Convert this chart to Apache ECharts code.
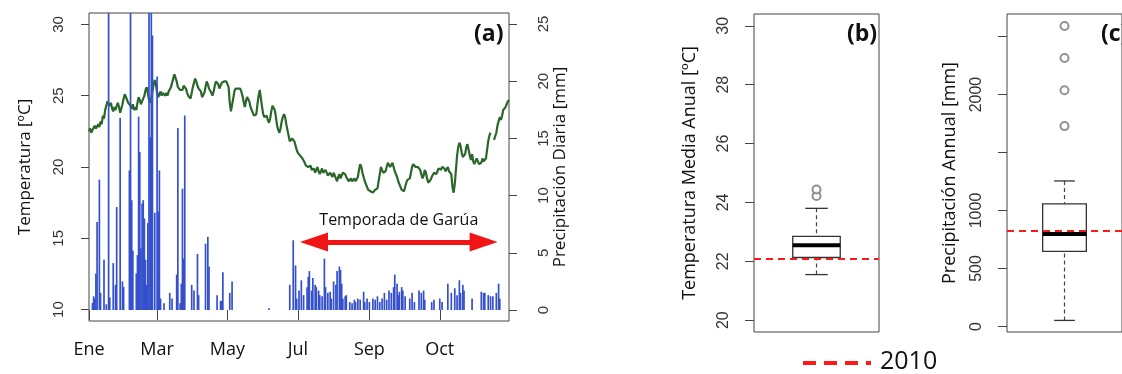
<!DOCTYPE html>
<html>
<head>
<meta charset="utf-8">
<script src="https://cdn.jsdelivr.net/npm/echarts@6/dist/echarts.min.js"></script>
<style>
  html, body { margin: 0; padding: 0; background: #fff; }
  #chart { width: 1122px; height: 374px; }
</style>
</head>
<body>
<div id="chart"></div>
<script>
// Month ticks (day of year) and their labels
const monthDays = [0, 59, 120, 181, 243, 304];
const monthLabels = ['Ene', 'Mar', 'May', 'Jul', 'Sep', 'Oct'];

// Daily mean temperature [ºC], day 0 .. 364 (null = missing)
const tempDaily = [
  22.5, 22.7, 22.4, 22.6, 22.5, 22.9, 22.7, 22.6, 23.0, 22.8,
  23.2, 23.0, 23.6, 23.4, 24.0, 24.3, 24.6, 24.7, 24.3, 24.5,
  24.1, 23.9, 24.2, 24.0, 24.3, 24.5, 24.2, 23.8, 24.1, 24.4,
  24.8, 25.1, 24.9, 24.7, 24.5, 24.6, 24.3, 24.1, 24.4, 24.0,
  24.2, 24.0, 24.5, 24.9, 24.7, 24.4, 24.6, 24.5, 25.0, 25.4,
  25.6, 25.2, 24.7, 24.5, 24.8, 25.3, 25.8, 26.1, 25.8, 25.2,
  24.9, 25.1, 25.3, 25.0, 25.2, 25.3, 25.0, 25.2, 25.0, 25.3,
  25.3, 25.6, 25.9, 26.2, 26.5, 26.4, 26.0, 25.6, 25.5, 25.4,
  25.5, 25.4, 25.7, 25.8, 25.5, 25.2, 25.0, 24.9, 24.8, 25.2,
  25.6, 25.9, 26.2, 26.0, 25.7, 25.5, 25.6, 25.3, 24.9, 24.8,
  25.2, 25.6, 26.0, 25.8, 25.5, 25.4, 25.2, 25.0, 25.3, 25.7,
  26.0, 26.1, 25.8, 25.5, 25.6, 25.9, 26.0, 26.0, 25.9, 26.0,
  25.9, 25.6, 24.5, 23.9, 24.0, 24.8, 25.3, 25.5, 25.6, 25.5,
  25.4, 25.5, 25.3, 25.0, 24.6, 24.2, 24.6, 24.9, 25.0, 24.6,
  24.2, 24.0, 23.8, 23.6, 23.5, 23.7, 24.4, 25.0, 25.4, 24.8,
  24.2, 23.7, 23.5, 23.4, 23.6, 23.3, 23.1, 23.4, 23.9, 24.3,
  24.4, 24.0, 23.5, 22.9, 22.6, 22.4, 22.7, 23.2, 23.5, 23.7,
  23.5, 23.0, 22.6, 22.2, 21.8, 21.7, 22.0, 22.1, 21.8, 21.5,
  21.2, 21.0, 20.9, 20.8, 20.7, 20.6, 20.5, 20.3, 20.1, 20.2,
  20.0, 19.9, 20.1, 19.8, 19.7, 19.9, 19.6, 19.8, 20.0, 19.7,
  19.5, 19.7, 19.9, 19.6, 19.5, 19.8, 19.6, 19.4, 19.3, 19.6,
  19.5, 19.3, 19.6, 19.4, 19.2, 19.0, 19.3, 19.5, 19.2, 19.4,
  19.6, 19.7, 19.5, 19.3, 19.2, 19.0, 19.1, 19.2, 19.0, 18.9,
  19.2, 19.0, 19.0, 19.3, 19.8, 20.2, 20.0, 19.6, 19.3, 19.0,
  18.8, 18.6, 18.4, 18.3, 18.3, 18.4, 18.2, 18.3, 18.4, 18.3,
  18.5, 19.0, 19.5, 20.0, 19.8, 19.6, 19.5, 19.7, 20.0, 20.3,
  20.2, 20.0, 20.1, 20.3, 20.0, 19.7, 19.5, 19.3, 19.0, 18.8,
  18.6, 18.4, 18.3, 18.3, 18.6, 18.9, 19.1, 19.0, 19.2, 19.6,
  20.0, 20.2, 20.2, 20.0, 19.9, 20.0, 20.1, 19.8, 19.5, 19.2,
  19.4, 19.8, 19.6, 19.2, 18.9, 18.9, 19.1, 19.3, 19.4, 19.6,
  19.6, 19.5, 19.7, 19.9, 20.0, 19.8, 20.0, 20.1, 19.9, 19.7,
  19.8, 20.0, 19.7, 19.7, 19.5, 18.6, 18.2, 18.8, 19.8, 20.8,
  21.4, 21.7, 21.5, 21.0, 20.7, 20.6, 20.9, 21.4, 21.6, 21.2,
  20.8, 20.5, 20.9, 20.4, 20.2, 20.3, 20.6, 20.4, 20.2, 20.3,
  20.3, 20.6, 20.4, 20.5, 20.6, 21.2, 21.8, 22.2, 22.4, null,
  null, 21.9, 22.0, 22.4, 22.9, 23.2, 23.5, 23.3, 23.6, 24.0,
  23.9, 24.2, 24.4, 24.6, 24.7
];

// Daily precipitation [mm]: day of year and amount
const rainDay = [
  3, 4, 5, 6, 7, 9, 10, 13, 15, 17, 18, 21, 23, 24, 27, 29, 30,
  35, 36, 37, 38, 41, 42, 43, 44, 45, 46, 47, 48, 49, 50, 51, 52, 53, 54, 55,
  57, 59, 60, 61, 62, 65, 70, 72, 76, 77, 79, 80, 81, 82, 83, 89, 91, 94, 95,
  101, 103, 104, 111, 114, 115, 116, 122, 124, 156,
  174, 177, 179, 180, 182, 184, 186, 189, 190, 191, 193, 194, 196, 197, 199,
  200, 202, 204, 205, 207, 209, 210, 212, 214, 215, 217, 218, 219, 220, 222,
  223, 226, 228, 230, 231, 233, 235, 238, 239, 241, 243, 246, 248, 250, 252,
  254, 256, 258, 260, 262, 264, 265, 267, 268, 269, 271, 272, 274, 278, 280,
  282, 286, 288, 290, 291, 297, 299, 304, 306, 311, 314, 317, 319, 321, 322,
  324, 325, 332, 340, 342, 343, 346, 348, 350, 353, 355, 356
];
const rainMm = [
  0.6, 1.2, 1.0, 3.2, 7.7, 11.4, 1.5, 4.4, 0.5, 30, 1.1, 4.1, 2.2, 9.0, 16.8, 2.5, 2.0,
  12.2, 30, 9.6, 5.2, 3.2, 4.8, 16.9, 13.8, 5.4, 9.3, 9.6, 8.0, 4.4, 2.2, 7.6, 28, 15.1, 32, 24.0,
  8.5, 20.4, 8.6, 12.2, 1.0, 0.6, 1.5, 1.0, 3.1, 15.9, 0.6, 2.3, 10.6, 4.5, 17.0, 2.2, 1.7, 4.9, 1.3,
  5.8, 6.4, 3.8, 1.3, 0.8, 0.8, 3.3, 1.5, 2.5, 0.15,
  2.2, 6.1, 3.9, 1.0, 1.7, 2.6, 1.3, 2.0, 2.9, 3.4, 1.7, 2.8, 2.2, 2.0, 1.7,
  1.3, 1.2, 4.5, 2.0, 1.5, 1.6, 1.0, 2.5, 2.2, 3.4, 3.8, 3.5, 2.3, 1.0, 1.2,
  1.3, 0.7, 0.6, 0.9, 0.7, 1.0, 0.9, 1.6, 0.7, 1.0, 0.7, 1.0, 0.9, 1.2, 0.7,
  1.0, 1.5, 0.9, 1.7, 1.5, 2.0, 3.1, 2.3, 1.3, 1.6, 2.0, 1.7, 1.2, 1.0, 1.5,
  0.7, 1.7, 1.5, 1.7, 0.9, 0.7, 0.9, 1.0, 0.7, 2.3, 1.5, 1.9, 1.3, 2.6, 1.5,
  2.2, 1.7, 1.0, 1.6, 1.5, 1.5, 1.3, 1.2, 1.2, 1.5, 2.3, 1.0
];

// Drizzle season span (days) and its arrow height [mm]
const garuaStart = 195;
const garuaEnd = 342;
const garuaLevel = 5.94;

// Annual mean temperature: [min, Q1, median, Q3, max] and outliers
const tempBox = [21.55, 22.13, 22.55, 22.85, 23.8];
const tempOutliers = [24.22, 24.44];
const temp2010 = 22.1;

// Annual precipitation: [min, Q1, median, Q3, max] and outliers
const precBox = [52, 647, 797, 1058, 1255];
const precOutliers = [1728, 2038, 2316, 2591];
const prec2010 = 828;

const digitFont = 'Liberation Sans';
const textFont = 'Open Sans';

const chart = echarts.init(document.getElementById('chart'), null, { renderer: 'canvas' });

// R-style box-and-whisker drawn through the axis scales
function renderBox(params, api) {
  const x = api.value(0);
  const lo = api.value(1), q1 = api.value(2), med = api.value(3), q3 = api.value(4), hi = api.value(5);
  const hw = 0.19, cw = 0.09;
  const c = (xx, yy) => api.coord([xx, yy]);
  const pLo = c(x, lo), pHi = c(x, hi);
  const pQ1 = c(x - hw, q1), pQ3 = c(x + hw, q3);
  const pMedL = c(x - hw, med), pMedR = c(x + hw, med);
  const capL = c(x - cw, 0)[0], capR = c(x + cw, 0)[0];
  const cx = pLo[0];
  const wh = { stroke: '#444', lineWidth: 1.2, lineDash: [4, 3] };
  return {
    type: 'group',
    children: [
      { type: 'line', shape: { x1: cx, y1: pHi[1], x2: cx, y2: pQ3[1] }, style: wh },
      { type: 'line', shape: { x1: cx, y1: pLo[1], x2: cx, y2: pQ1[1] }, style: wh },
      { type: 'line', shape: { x1: capL, y1: pHi[1], x2: capR, y2: pHi[1] }, style: { stroke: '#333', lineWidth: 1.3 } },
      { type: 'line', shape: { x1: capL, y1: pLo[1], x2: capR, y2: pLo[1] }, style: { stroke: '#333', lineWidth: 1.3 } },
      { type: 'rect', shape: { x: pQ1[0], y: pQ3[1], width: pQ3[0] - pQ1[0], height: pQ1[1] - pQ3[1] },
        style: { fill: '#fff', stroke: '#333', lineWidth: 1.3 } },
      { type: 'line', shape: { x1: pMedL[0], y1: pMedL[1], x2: pMedR[0], y2: pMedR[1] },
        style: { stroke: '#000', lineWidth: 4 } }
    ]
  };
}

const digitLabel = (size, margin) => ({
  rotate: 90, fontFamily: digitFont, fontSize: size, color: '#333', margin: margin,
  formatter: v => String(v)
});

const option = {
  animation: false,
  backgroundColor: '#fff',
  title: [
    { text: '(a)', left: 469, top: 18, textStyle: { fontFamily: textFont, fontWeight: 'bold', fontSize: 23, color: '#111' } },
    { text: '(b)', left: 842, top: 18, textStyle: { fontFamily: textFont, fontWeight: 'bold', fontSize: 23, color: '#111' } },
    { text: '(c)', left: 1096, top: 18, textStyle: { fontFamily: textFont, fontWeight: 'bold', fontSize: 23, color: '#111' } }
  ],
  grid: [
    { left: 89, top: 13, width: 420, height: 308, show: true, borderColor: '#444', borderWidth: 1, backgroundColor: 'transparent' },
    { left: 754, top: 14, width: 125, height: 318, show: true, borderColor: '#444', borderWidth: 1, backgroundColor: 'transparent' },
    { left: 1007, top: 14, width: 125, height: 318, show: true, borderColor: '#444', borderWidth: 1, backgroundColor: 'transparent' }
  ],
  xAxis: [
    {
      gridIndex: 0, type: 'value', min: 0, max: 364,
      axisLine: { show: false }, splitLine: { show: false },
      axisTick: { show: true, inside: false, length: 10, lineStyle: { color: '#444' }, customValues: monthDays },
      axisLabel: {
        customValues: monthDays, fontFamily: textFont, fontSize: 18, color: '#111', margin: 20,
        formatter: v => monthLabels[monthDays.indexOf(v)]
      }
    },
    { gridIndex: 1, type: 'value', min: 0.5, max: 1.5, show: false },
    { gridIndex: 2, type: 'value', min: 0.5, max: 1.5, show: false }
  ],
  yAxis: [
    {
      gridIndex: 0, type: 'value', min: 9.2, max: 30.8, position: 'left',
      name: 'Temperatura [ºC]', nameLocation: 'middle', nameRotate: 90, nameGap: 55,
      nameTextStyle: { fontFamily: textFont, fontSize: 17, color: '#111' },
      axisLine: { show: false }, splitLine: { show: false },
      axisTick: { show: true, inside: false, length: 8, lineStyle: { color: '#444' }, customValues: [10, 15, 20, 25, 30] },
      axisLabel: Object.assign(digitLabel(15, 23), { customValues: [10, 15, 20, 25, 30] })
    },
    {
      gridIndex: 0, type: 'value', min: -0.96, max: 25.96, position: 'right',
      name: 'Precipitación Diaria [mm]', nameLocation: 'middle', nameRotate: 90, nameGap: 43,
      nameTextStyle: { fontFamily: textFont, fontSize: 17, color: '#111' },
      axisLine: { show: false }, splitLine: { show: false },
      axisTick: { show: true, inside: false, length: 8, lineStyle: { color: '#444' }, customValues: [0, 5, 10, 15, 20, 25] },
      axisLabel: Object.assign(digitLabel(15, 27), { customValues: [0, 5, 10, 15, 20, 25] })
    },
    {
      gridIndex: 1, type: 'value', min: 19.6, max: 30.4,
      name: 'Temperatura Media Anual [ºC]', nameLocation: 'middle', nameRotate: 90, nameGap: 55,
      nameTextStyle: { fontFamily: textFont, fontSize: 18, color: '#111' },
      axisLine: { show: false }, splitLine: { show: false },
      axisTick: { show: true, inside: false, length: 9, lineStyle: { color: '#444' }, customValues: [20, 22, 24, 26, 28, 30] },
      axisLabel: Object.assign(digitLabel(16, 22), { customValues: [20, 22, 24, 26, 28, 30] })
    },
    {
      gridIndex: 2, type: 'value', min: -48, max: 2695,
      name: 'Precipitación Annual [mm]', nameLocation: 'middle', nameRotate: 90, nameGap: 48,
      nameTextStyle: { fontFamily: textFont, fontSize: 18, color: '#111' },
      axisLine: { show: false }, splitLine: { show: false },
      axisTick: { show: true, inside: false, length: 9, lineStyle: { color: '#444' }, customValues: [0, 500, 1000, 1500, 2000, 2500] },
      axisLabel: Object.assign(digitLabel(16, 22), { customValues: [0, 500, 1000, 2000] })
    }
  ],
  series: [
    {
      name: 'Temperatura', type: 'line', xAxisIndex: 0, yAxisIndex: 0,
      data: tempDaily.map((t, i) => [i, t]),
      showSymbol: false, connectNulls: false, z: 2,
      lineStyle: { color: '#2b662b', width: 2.2 }
    },
    {
      name: 'Precipitación', type: 'bar', xAxisIndex: 0, yAxisIndex: 1,
      data: rainDay.map((d, i) => [d, rainMm[i]]),
      barWidth: 1.7, clip: true, z: 3,
      itemStyle: { color: '#3550cc' },
      markLine: {
        silent: true, animation: false,
        symbol: ['triangle', 'triangle'], symbolSize: [19, 28],
        lineStyle: { color: '#f01414', width: 5, type: 'solid' },
        label: {
          show: true, position: 'insideMiddleTop', distance: 14,
          formatter: 'Temporada de Garúa', fontFamily: textFont, fontSize: 16, color: '#111'
        },
        data: [[{ coord: [garuaStart, garuaLevel] }, { coord: [garuaEnd, garuaLevel] }]]
      }
    },
    {
      type: 'custom', xAxisIndex: 1, yAxisIndex: 2, renderItem: renderBox, z: 2,
      encode: { x: 0, y: [1, 2, 3, 4, 5] },
      data: [[1].concat(tempBox)]
    },
    {
      type: 'scatter', xAxisIndex: 1, yAxisIndex: 2, z: 4,
      symbol: 'emptyCircle', symbolSize: 8,
      itemStyle: { color: '#777', borderWidth: 1.2 },
      data: tempOutliers.map(v => [1, v]),
      markLine: {
        silent: true, animation: false, symbol: 'none',
        lineStyle: { color: '#ff1a1a', width: 2, type: [7, 5] },
        label: { show: false },
        data: [{ yAxis: temp2010 }]
      }
    },
    {
      type: 'custom', xAxisIndex: 2, yAxisIndex: 3, renderItem: renderBox, z: 2,
      encode: { x: 0, y: [1, 2, 3, 4, 5] },
      data: [[1].concat(precBox)]
    },
    {
      type: 'scatter', xAxisIndex: 2, yAxisIndex: 3, z: 4,
      symbol: 'emptyCircle', symbolSize: 8,
      itemStyle: { color: '#777', borderWidth: 1.2 },
      data: precOutliers.map(v => [1, v]),
      markLine: {
        silent: true, animation: false, symbol: 'none',
        lineStyle: { color: '#ff1a1a', width: 2, type: [7, 5] },
        label: { show: false },
        data: [{ yAxis: prec2010 }]
      }
    }
  ],
  graphic: [
    {
      type: 'line', silent: true,
      shape: { x1: 803, y1: 363, x2: 871, y2: 363 },
      style: { stroke: '#ff1a1a', lineWidth: 4, lineDash: [13, 8] }
    },
    {
      type: 'text', silent: true, x: 880, y: 362,
      style: { text: '2010', fontFamily: textFont, fontSize: 25, fill: '#111', verticalAlign: 'middle' }
    }
  ]
};

chart.setOption(option);
</script>
</body>
</html>
